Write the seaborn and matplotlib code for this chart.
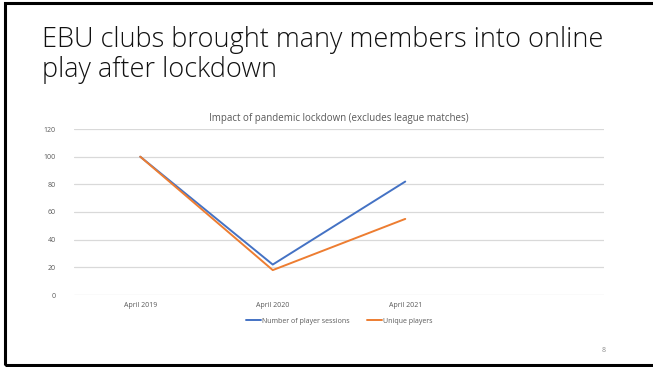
import matplotlib.pyplot as plt
import seaborn as sns
import pandas as pd
from matplotlib.patches import Rectangle

months = ['April 2019', 'April 2020', 'April 2021']
sessions = [100, 22, 82]
unique_players = [100, 18, 55]
series_names = ['Number of player sessions', 'Unique players']

df = pd.DataFrame({
    'month': months * 2,
    'value': sessions + unique_players,
    'series': [series_names[0]] * 3 + [series_names[1]] * 3,
})

sns.set_style('white')
plt.rcParams['font.family'] = ['Open Sans', 'DejaVu Sans']

fig = plt.figure(figsize=(6.53, 3.67), dpi=100)

# Slide frame
fig.patches.append(Rectangle((5 / 653, 2 / 367), 2.0, 362 / 367, transform=fig.transFigure,
                             fill=False, edgecolor='black', linewidth=2.2))

# Slide title
fig.text(42 / 653, 1 - 40 / 367, 'EBU clubs brought many members into online',
         fontsize=19.5, fontweight='light', color='#111111', va='center', ha='left')
fig.text(42 / 653, 1 - 70 / 367, 'play after lockdown',
         fontsize=19.5, fontweight='light', color='#111111', va='center', ha='left')

ax = fig.add_axes([74 / 653, 1 - 295 / 367, 530 / 653, 166 / 367])
sns.lineplot(data=df, x='month', y='value', hue='series',
             palette=['#4472C4', '#ED7D31'], linewidth=1.4, ax=ax, sort=False)

ax.set_xlim(-0.5, 3.5)
ax.set_ylim(0, 120)
ax.set_yticks(range(0, 121, 20))
ax.set_xticks(range(3))
ax.set_xticklabels(months)
ax.yaxis.grid(True, color='#D9D9D9', linewidth=0.9)
ax.set_axisbelow(True)
for s in ax.spines.values():
    s.set_visible(False)
ax.tick_params(axis='both', length=0, labelsize=5, labelcolor='#595959')
ax.tick_params(axis='y', pad=13)
ax.tick_params(axis='x', pad=5)
ax.set_xlabel('')
ax.set_ylabel('')
ax.set_title('Impact of pandemic lockdown (excludes league matches)',
             fontsize=7, color='#595959', pad=6)

leg = ax.legend(loc='upper center', bbox_to_anchor=(0.5, -0.1), ncol=2, frameon=False,
                fontsize=5, handlelength=2.2, handletextpad=0.1, columnspacing=2.5)
for t in leg.get_texts():
    t.set_color('#595959')

fig.text(604 / 653, 1 - 351 / 367, '8', fontsize=5, color='#8C8C8C', ha='center', va='center')

plt.savefig('out.png', dpi=100)
